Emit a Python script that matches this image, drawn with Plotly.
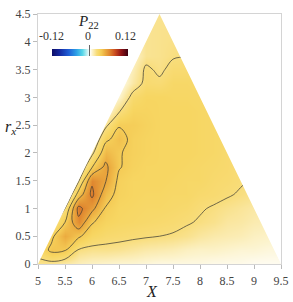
import plotly.graph_objects as go

# grid coordinates
x_vals = [5.0, 5.25, 5.5, 5.75, 6.0, 6.25, 6.5, 6.75, 7.0, 7.25, 7.5, 7.75,
          8.0, 8.25, 8.5, 8.75, 9.0, 9.25, 9.5]
r_vals = [0.0, 0.25, 0.5, 0.75, 1.0, 1.25, 1.5, 1.75, 2.0, 2.25, 2.5, 2.75,
          3.0, 3.25, 3.5, 3.75, 4.0, 4.25, 4.5]

N = None
# P22 values (rows = r, columns = X)
p22 = [
    [0.018, 0.017, 0.013, 0.010, 0.008, 0.007, 0.006, 0.006, 0.005, 0.004, 0.004, 0.004, 0.004, 0.003, 0.003, 0.003, 0.002, 0.002, 0.002],
    [0.025, 0.038, 0.036, 0.020, 0.018, 0.018, 0.017, 0.015, 0.013, 0.012, 0.011, 0.009, 0.008, 0.008, 0.007, 0.006, 0.006, 0.005, 0.005],
    [0.021, 0.032, 0.048, 0.037, 0.028, 0.025, 0.024, 0.023, 0.022, 0.021, 0.020, 0.018, 0.015, 0.013, 0.012, 0.011, 0.009, 0.008, 0.007],
    [0.011, 0.014, 0.035, 0.060, 0.036, 0.030, 0.028, 0.027, 0.026, 0.025, 0.024, 0.022, 0.020, 0.018, 0.015, 0.014, 0.012, 0.011, 0.009],
    [N,     0.011, 0.021, 0.067, 0.053, 0.034, 0.029, 0.028, 0.027, 0.027, 0.026, 0.025, 0.022, 0.020, 0.018, 0.016, 0.014, 0.013, 0.011],
    [N,     N,     0.000, 0.041, 0.066, 0.041, 0.031, 0.029, 0.028, 0.028, 0.027, 0.027, 0.025, 0.024, 0.022, 0.020, 0.018, 0.015, 0.014],
    [N,     N,     0.000, 0.019, 0.061, 0.050, 0.032, 0.029, 0.029, 0.029, 0.028, 0.027, 0.027, 0.025, 0.024, 0.022, 0.020, N,     N],
    [N,     N,     N,     0.007, 0.034, 0.052, 0.036, 0.031, 0.029, 0.029, 0.029, 0.028, 0.027, 0.026, 0.025, 0.022, N,     N,     N],
    [N,     N,     N,     0.000, 0.018, 0.043, 0.036, 0.032, 0.030, 0.029, 0.029, 0.029, 0.028, 0.027, 0.025, 0.024, N,     N,     N],
    [N,     N,     N,     N,     0.007, 0.032, 0.040, 0.032, 0.030, 0.029, 0.029, 0.029, 0.028, 0.027, 0.026, N,     N,     N,     N],
    [N,     N,     N,     N,     0.000, 0.018, 0.034, 0.034, 0.031, 0.029, 0.029, 0.029, 0.028, 0.027, 0.027, N,     N,     N,     N],
    [N,     N,     N,     N,     N,     0.004, 0.020, 0.030, 0.030, 0.029, 0.029, 0.029, 0.028, 0.027, N,     N,     N,     N,     N],
    [N,     N,     N,     N,     N,     0.000, 0.007, 0.025, 0.029, 0.029, 0.028, 0.028, 0.027, 0.027, N,     N,     N,     N,     N],
    [N,     N,     N,     N,     N,     N,     0.000, 0.014, 0.024, 0.023, 0.027, 0.027, 0.026, N,     N,     N,     N,     N,     N],
    [N,     N,     N,     N,     N,     N,     0.000, 0.011, 0.023, 0.019, 0.024, 0.024, 0.024, N,     N,     N,     N,     N,     N],
    [N,     N,     N,     N,     N,     N,     N,     0.007, 0.017, 0.018, 0.020, 0.021, N,     N,     N,     N,     N,     N,     N],
    [N,     N,     N,     N,     N,     N,     N,     0.011, 0.017, 0.018, 0.019, 0.019, N,     N,     N,     N,     N,     N,     N],
    [N,     N,     N,     N,     N,     N,     N,     N,     0.017, 0.018, 0.018, N,     N,     N,     N,     N,     N,     N,     N],
    [N,     N,     N,     N,     N,     N,     N,     N,     0.017, 0.018, 0.018, N,     N,     N,     N,     N,     N,     N,     N],
]

# contour levels
level_start = 0.021
level_step = 0.014
level_end = 0.0635

# triangular domain of valid (X, r_x)
domain_x = [5.0, 7.25, 9.5]
domain_r = [0.0, 4.5, 0.0]

x_ticks = [5, 5.5, 6, 6.5, 7, 7.5, 8, 8.5, 9, 9.5]
y_ticks = [0, 0.5, 1, 1.5, 2, 2.5, 3, 3.5, 4, 4.5]
cbar_ticks = [-0.12, 0, 0.12]
cbar_labels = ["-0.12", "0", "0.12"]
zmin, zmax = -0.12, 0.12

colorscale = [
    [0.00, "#0d0d66"],
    [0.10, "#1428a0"],
    [0.22, "#1f5fd6"],
    [0.32, "#2d9fe6"],
    [0.40, "#56d6e8"],
    [0.46, "#bff0f2"],
    [0.50, "#ffffff"],
    [0.53, "#fcf3cc"],
    [0.56, "#fae7a2"],
    [0.59, "#f8dc78"],
    [0.62, "#f7d662"],
    [0.65, "#f4ca55"],
    [0.70, "#ebab3f"],
    [0.76, "#df852f"],
    [0.83, "#ca4c1f"],
    [0.91, "#921416"],
    [1.00, "#3c0010"],
]

FONT = "Liberation Serif, DejaVu Serif, serif"

fig = go.Figure()
fig.add_trace(go.Contour(
    x=x_vals, y=r_vals, z=p22,
    zmin=zmin, zmax=zmax, zauto=False,
    colorscale=colorscale,
    connectgaps=True,
    showscale=False,
    contours=dict(start=level_start, end=level_end, size=level_step,
                  coloring="heatmap", showlines=True),
    line=dict(color="rgba(55,55,50,0.9)", width=0.8),
    hoverinfo="skip",
))

# white mask outside the triangular domain
mask_x = [domain_x[0], domain_x[1], domain_x[2], domain_x[2] + 0.2, domain_x[2] + 0.2,
          domain_x[0] - 0.2, domain_x[0] - 0.2]
mask_y = [domain_r[0], domain_r[1], domain_r[2], -0.2, domain_r[1] + 0.3,
          domain_r[1] + 0.3, -0.2]
fig.add_trace(go.Scatter(
    x=mask_x, y=mask_y, fill="toself", fillcolor="white",
    mode="lines", line=dict(width=0, color="white"),
    hoverinfo="skip", showlegend=False,
))

# colour bar (horizontal, inside the plot, labels above)
cb_x, cb_y, cb_len_px, plot_w = 0.0558, 0.788, 76, 251
fig.add_trace(go.Scatter(
    x=[None], y=[None], mode="markers", hoverinfo="skip", showlegend=False,
    marker=dict(color=[0], cmin=zmin, cmax=zmax, colorscale=colorscale, showscale=True,
                colorbar=dict(
                    orientation="h",
                    x=cb_x, xanchor="left", xref="paper",
                    y=cb_y, yanchor="bottom", yref="paper",
                    lenmode="pixels", len=cb_len_px, thickness=7,
                    xpad=0, ypad=0, outlinewidth=0,
                    title=dict(text=""),
                    tickvals=cbar_ticks, ticks="inside", ticklen=11,
                    tickcolor="#666", tickwidth=1, showticklabels=False,
                )),
))

cb_len = cb_len_px / plot_w
annotations = []
for t, lab in zip(cbar_ticks, cbar_labels):
    annotations.append(dict(
        text=lab, xref="paper", yref="paper",
        x=cb_x + (t - zmin) / (zmax - zmin) * cb_len, y=0.912,
        xanchor="center", yanchor="middle", showarrow=False,
        font=dict(family=FONT, size=12, color="#333"),
    ))
annotations.append(dict(
    text="<i>P</i><sub>22</sub>", xref="paper", yref="paper",
    x=cb_x + cb_len / 2, y=0.968, xanchor="center", yanchor="middle", showarrow=False,
    font=dict(family=FONT, size=15, color="#222"),
))
annotations.append(dict(
    text="<i>r</i><sub><i>x</i></sub>", xref="paper", yref="y",
    x=-0.115, y=2.45, xanchor="center", yanchor="middle", showarrow=False,
    font=dict(family=FONT, size=16, color="#222"),
))
annotations.append(dict(
    text="<i>X</i>", xref="paper", yref="paper",
    x=0.47, y=-0.108, xanchor="center", yanchor="middle", showarrow=False,
    font=dict(family=FONT, size=16, color="#222"),
))

axis_common = dict(
    showline=True, linecolor="#d4d4d4", linewidth=1, mirror=True,
    ticks="outside", ticklen=4, tickcolor="#bbb",
    showgrid=False, zeroline=False, ticklabeloverflow="allow",
    tickfont=dict(family=FONT, size=12, color="#444"),
)

fig.update_layout(
    width=293, height=302,
    margin=dict(l=38, r=4, t=14, b=38),
    paper_bgcolor="white", plot_bgcolor="white",
    showlegend=False,
    xaxis=dict(range=[5, 9.5], tickvals=x_ticks, ticklabelstandoff=2,
               ticktext=[f"{v:g}" for v in x_ticks], **axis_common),
    yaxis=dict(range=[0, 4.5], tickvals=y_ticks,
               ticktext=[f"{v:g}" for v in y_ticks], **axis_common),
    annotations=annotations,
)

fig.write_html("out.html", config={"displayModeBar": False},
               post_script="document.body.style.margin='0px';document.body.style.overflow='hidden';")
